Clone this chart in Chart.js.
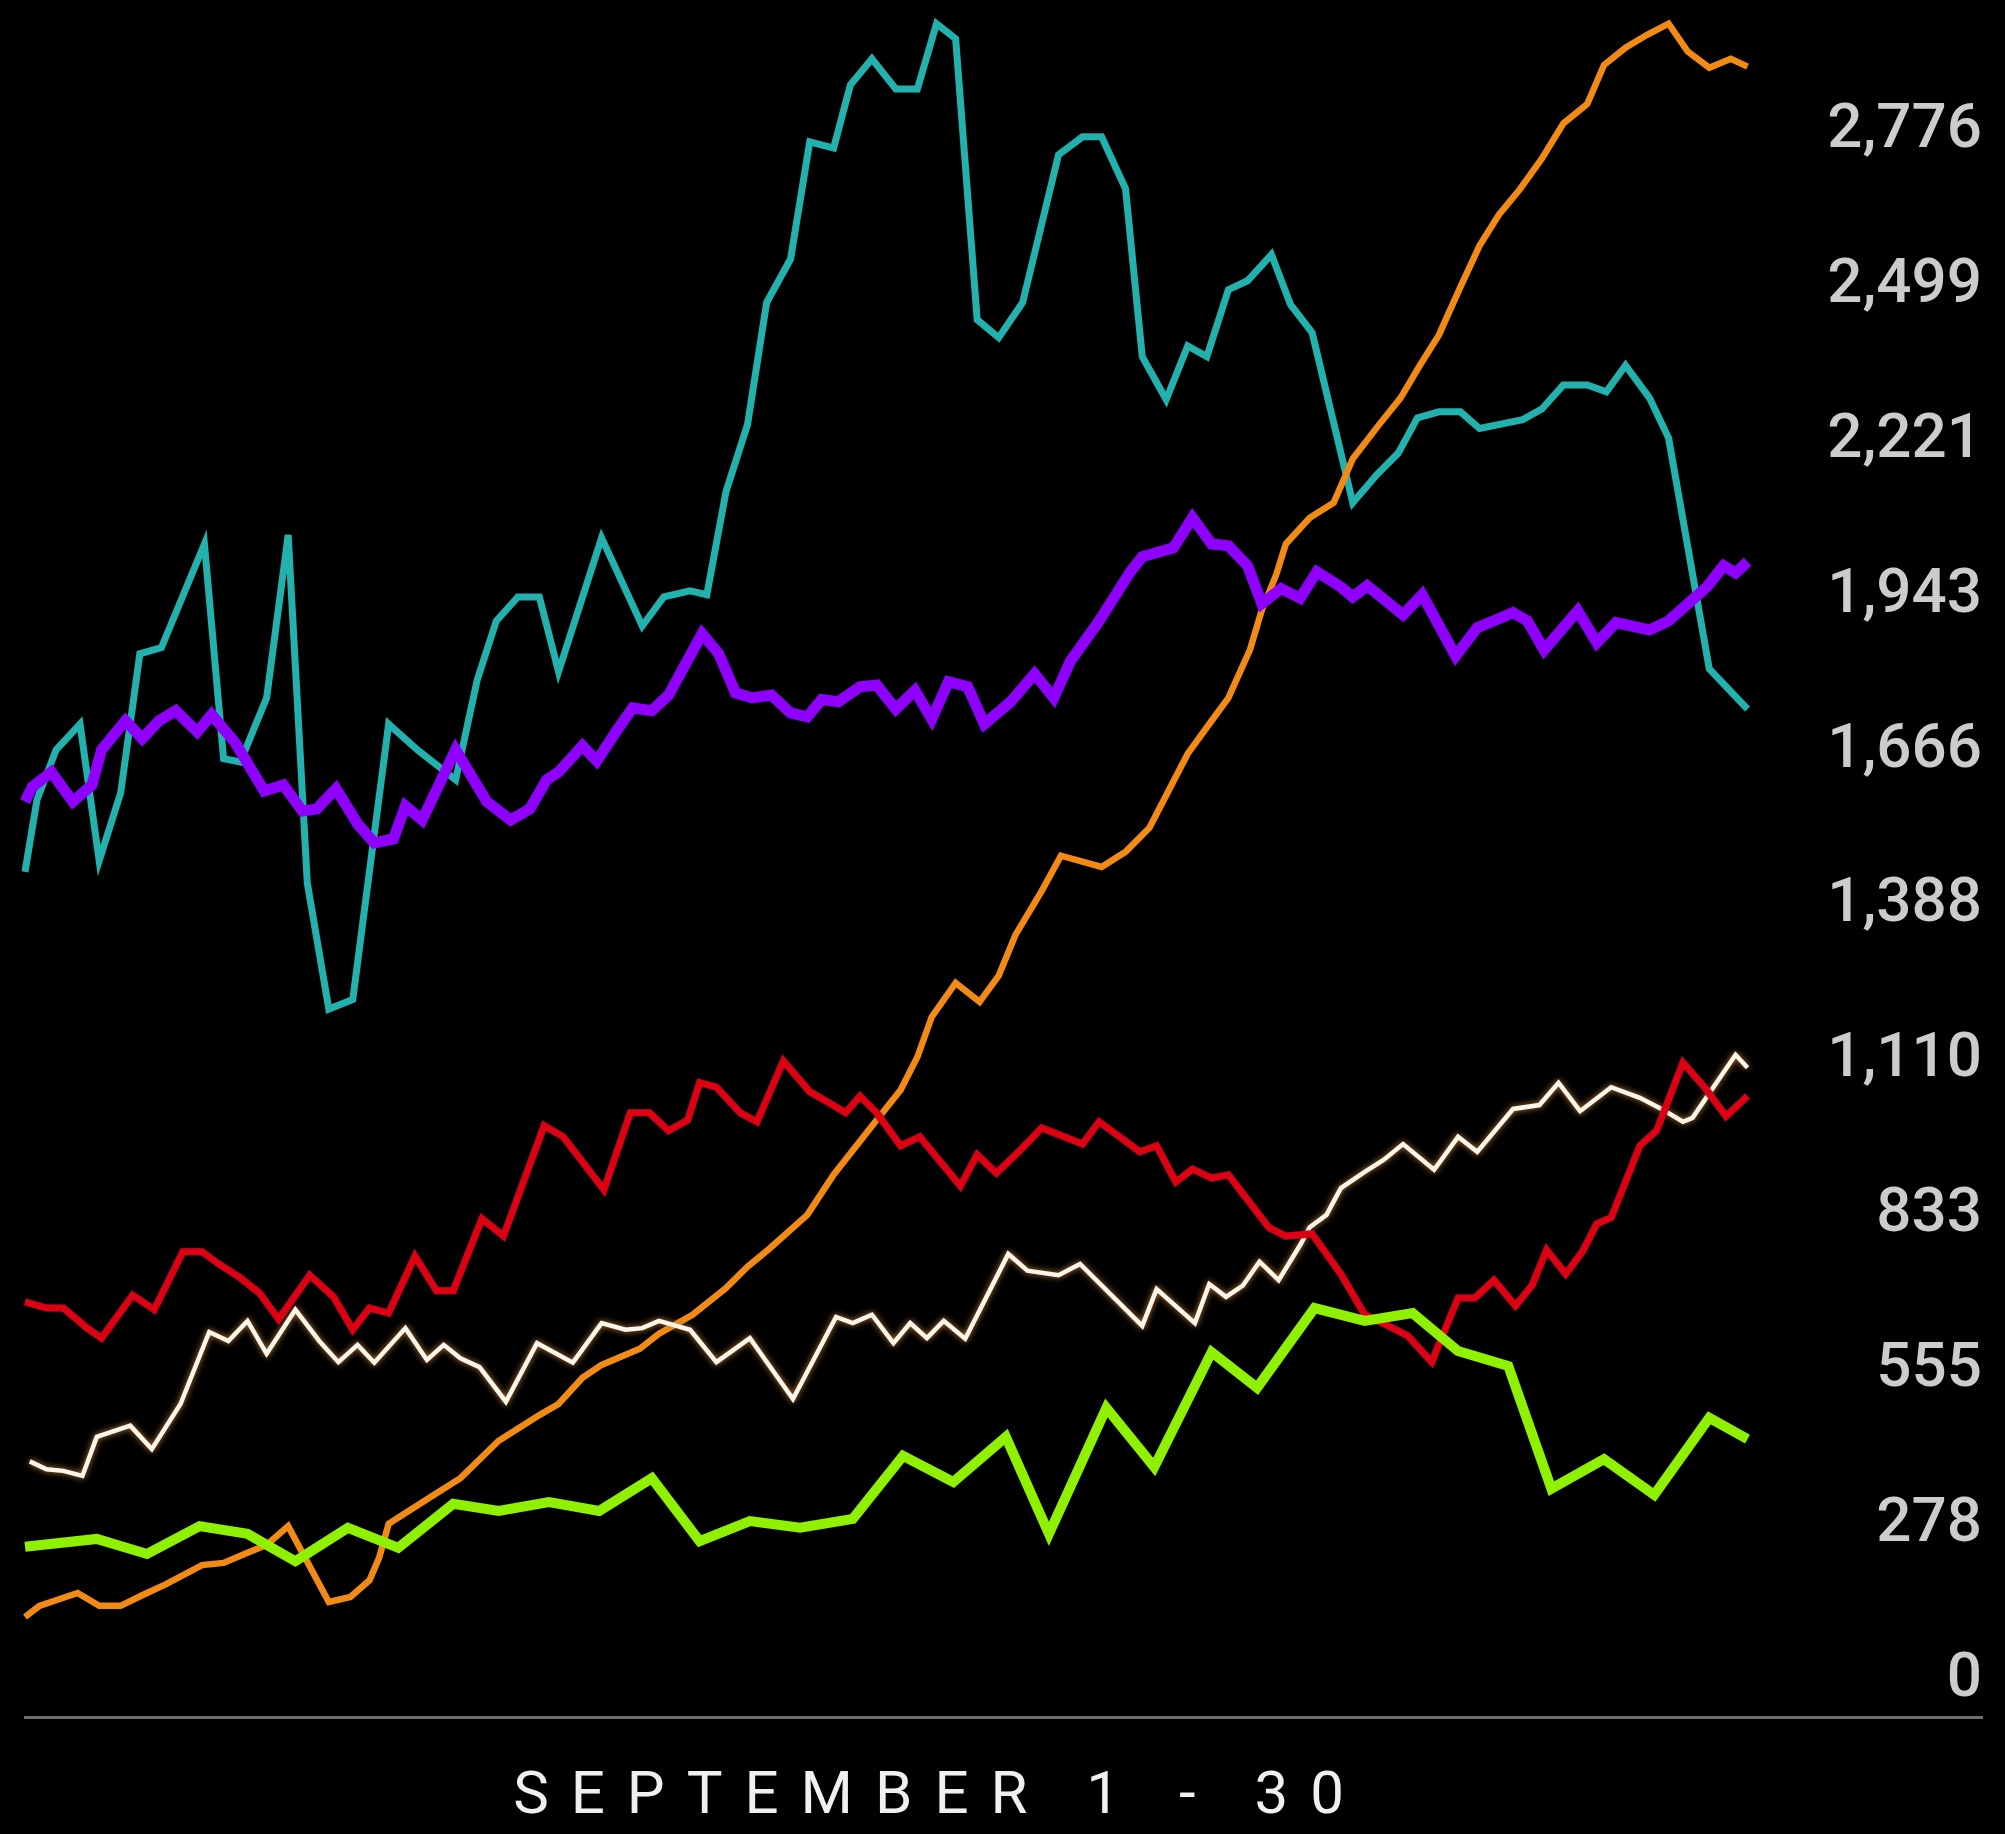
<!DOCTYPE html>
<html>
<head>
<meta charset="utf-8">
<style>
html,body{margin:0;padding:0;background:#000;}
#wrap{width:2005px;height:1834px;background:#000;}
canvas{display:block;}
</style>
<script src="https://cdn.jsdelivr.net/npm/chart.js@4.4.1/dist/chart.umd.min.js"></script>
</head>
<body>
<div id="wrap"><canvas id="c" width="2005" height="1834"></canvas></div>
<script>
// ---- Axis text ----
const xAxisTitle = 'SEPTEMBER 1 - 30';
const yTickValues = [0, 277.62, 555.24, 832.86, 1110.48, 1388.1, 1665.72, 1943.34, 2220.96, 2498.58, 2776.2];

// ---- Series data (x = hours since Sep 1, y = value) ----
const tealHours = [0,5,13,23,31,40,48,57,75,83,90,101,110,118,127,137,152,164,180,189,197,206,215,223,241,258,267,278,285,293,302,310,320,328,338,345,354,364,373,381,389,398,407,417,432,442,450,460,467,477,486,494,503,511,521,529,538,555,565,574,582,591,600,608,626,634,643,653,661,669,679,687,704,720];
const tealValues = [1449,1578,1668,1714,1469,1591,1840,1851,2037,1652,1646,1761,2053,1429,1203,1220,1714,1668,1614,1793,1899,1942,1942,1808,2048,1890,1942,1953,1946,2131,2251,2470,2548,2758,2747,2860,2907,2853,2853,2970,2943,2439,2407,2470,2735,2767,2767,2674,2373,2296,2392,2373,2493,2509,2556,2466,2416,2111,2161,2200,2263,2274,2274,2244,2260,2279,2322,2322,2310,2357,2299,2227,1813,1741];

const purpleHours = [0,3,11,20,28,32,42,49,56,63,72,78,88,100,108,116,122,130,139,146,154,159,166,180,193,203,211,218,223,233,239,247,254,262,269,283,290,297,304,312,320,327,333,340,349,356,364,372,379,386,394,401,412,422,430,437,449,462,467,480,488,496,503,511,517,525,533,540,550,555,561,576,584,598,607,622,628,635,649,657,665,679,687,703,710,715,720];
const purpleValues = [1575,1601,1628,1575,1605,1668,1720,1688,1720,1738,1700,1731,1680,1594,1605,1558,1562,1598,1535,1501,1508,1567,1542,1668,1575,1542,1562,1614,1628,1675,1648,1700,1743,1738,1766,1876,1840,1770,1761,1766,1734,1727,1758,1754,1781,1784,1741,1774,1723,1790,1781,1714,1754,1804,1761,1827,1899,1987,2014,2030,2084,2037,2034,1998,1930,1957,1940,1987,1960,1942,1962,1910,1946,1836,1887,1914,1899,1847,1917,1860,1896,1883,1899,1960,1998,1985,2005];

const orangeHours = [0,6,13,22,31,40,49,59,74,83,94,101,110,127,136,144,148,152,161,172,182,198,215,223,233,241,257,265,279,293,302,311,327,338,356,366,373,379,389,399,407,414,425,433,450,460,470,486,496,503,512,517,523,527,537,547,555,566,575,583,591,600,608,616,625,634,643,653,660,669,678,687,695,704,713,720];
const orangeValues = [113,133,143,156,133,133,152,172,206,210,230,242,276,140,149,179,219,280,305,335,362,429,475,495,542,565,594,621,655,703,741,773,834,906,1004,1058,1117,1189,1250,1216,1263,1336,1415,1478,1458,1485,1528,1661,1720,1761,1847,1919,1982,2037,2084,2111,2190,2251,2299,2357,2412,2498,2572,2627,2674,2728,2791,2826,2896,2927,2950,2970,2920,2891,2907,2893];

const redHours = [0,9,16,26,32,45,54,66,74,81,90,98,106,119,129,137,144,152,163,172,179,191,200,217,225,242,253,261,269,277,282,289,299,306,317,328,336,343,349,356,366,374,391,398,406,416,425,442,449,466,473,481,488,496,503,520,527,538,550,560,569,578,588,599,606,614,623,630,636,644,651,657,663,675,682,693,702,711,720];
const redValues = [678,667,667,631,613,690,664,768,768,746,721,694,647,726,687,628,667,658,760,698,698,827,796,994,974,879,1017,1017,985,1004,1071,1063,1017,1001,1110,1055,1035,1017,1047,1017,958,974,886,942,909,950,990,961,1001,947,958,893,916,900,906,811,796,800,728,655,637,617,570,685,685,717,671,708,771,728,768,818,829,958,985,1107,1063,1011,1047];

const creamHours = [2,9,16,24,30,44,53,65,77,85,93,101,113,123,131,139,146,159,168,175,182,190,201,214,229,241,251,258,265,278,289,303,321,339,346,354,363,370,377,384,393,411,419,432,441,467,473,489,495,502,509,516,524,533,537,544,550,560,568,576,589,599,607,622,633,641,650,663,675,684,693,697,715,720];
const creamValues = [392,378,375,366,436,456,414,495,624,608,644,585,664,608,570,601,569,631,574,601,577,561,499,604,569,640,628,631,644,628,570,613,504,651,640,655,604,640,613,644,612,764,734,726,746,635,701,640,710,687,707,750,717,780,812,834,882,911,933,961,915,974,947,1024,1031,1071,1020,1063,1044,1024,1001,1008,1121,1098];

const greenHours = [0,30,51,73,93,113,135,156,179,198,219,240,262,282,303,324,346,367,388,410,428,452,472,496,515,539,560,580,599,620,638,660,681,704,720];
const greenValues = [239,253,226,276,262,213,273,237,316,303,319,303,362,249,285,273,289,402,355,436,262,488,382,588,524,667,644,658,590,563,343,396,332,470,432];

const toPoints = (hours, values) => hours.map((h, i) => ({x: h, y: values[i]}));

// glow / outline for some lines
const glowPlugin = {
  id: 'glow',
  beforeDatasetDraw(chart, args) {
    const ds = chart.data.datasets[args.index];
    if (ds.glowColor) {
      const c = chart.ctx;
      c.save();
      c.shadowColor = ds.glowColor;
      c.shadowBlur = ds.glowBlur;
    }
  },
  afterDatasetDraw(chart, args) {
    const ds = chart.data.datasets[args.index];
    if (ds.glowColor) chart.ctx.restore();
  }
};

// letter-spaced axis title
const titleSpacingPlugin = {
  id: 'titleSpacing',
  beforeDraw(chart) {
    const sc = chart.scales.x;
    if (sc && !sc.__patched) {
      const orig = sc.drawTitle;
      sc.drawTitle = function () {
        const ctx = this.ctx;
        ctx.save();
        if ('letterSpacing' in ctx) ctx.letterSpacing = '22px';
        ctx.translate(-64, 0);
        orig.apply(this, arguments);
        ctx.restore();
      };
      sc.__patched = true;
    }
  }
};

new Chart(document.getElementById('c'), {
  type: 'line',
  data: {
    datasets: [
      {label: 'Green', data: toPoints(greenHours, greenValues), borderColor: '#8ff000', borderWidth: 10},
      {label: 'Purple', data: toPoints(purpleHours, purpleValues), borderColor: '#9000ff', borderWidth: 11},
      {label: 'Red', data: toPoints(redHours, redValues), borderColor: '#dc0010', borderWidth: 7, glowColor: 'rgba(30,30,90,0.9)', glowBlur: 2},
      {label: 'Cream', data: toPoints(creamHours, creamValues), borderColor: '#fff6ea', borderWidth: 4.5, glowColor: 'rgba(190,125,60,1)', glowBlur: 6},
      {label: 'Orange', data: toPoints(orangeHours, orangeValues), borderColor: '#f28a16', borderWidth: 6.5},
      {label: 'Teal', data: toPoints(tealHours, tealValues), borderColor: '#22b1ad', borderWidth: 7}
    ]
  },
  options: {
    responsive: false,
    animation: false,
    devicePixelRatio: 1,
    layout: {padding: {left: 25, right: 23, top: 0, bottom: 0}},
    datasets: {line: {clip: false}},
    elements: {
      point: {radius: 0, hoverRadius: 0},
      line: {tension: 0, fill: false, borderJoinStyle: 'miter', borderCapStyle: 'butt'}
    },
    plugins: {legend: {display: false}, tooltip: {enabled: false}},
    scales: {
      x: {
        type: 'linear', min: 0, max: 818,
        grid: {display: false, drawTicks: false},
        border: {display: true, color: '#6e6e6e', width: 3},
        ticks: {display: false},
        title: {
          display: true, text: xAxisTitle, color: '#f0f0f0',
          font: {family: 'Roboto', size: 60, weight: '400'},
          padding: {top: 45, bottom: 0}
        }
      },
      y: {
        type: 'linear', position: 'right', min: -66.3, max: 2945.7,
        grid: {display: false, drawTicks: false},
        border: {display: false},
        afterBuildTicks: (scale) => { scale.ticks = yTickValues.map(v => ({value: v})); },
        ticks: {
          mirror: true, padding: 0, autoSkip: false, color: '#cccccc',
          font: {family: 'Roboto', size: 62, weight: '500'},
          callback: (v) => Math.round(v).toLocaleString('en-US')
        }
      }
    }
  },
  plugins: [glowPlugin, titleSpacingPlugin]
});
</script>
</body>
</html>
